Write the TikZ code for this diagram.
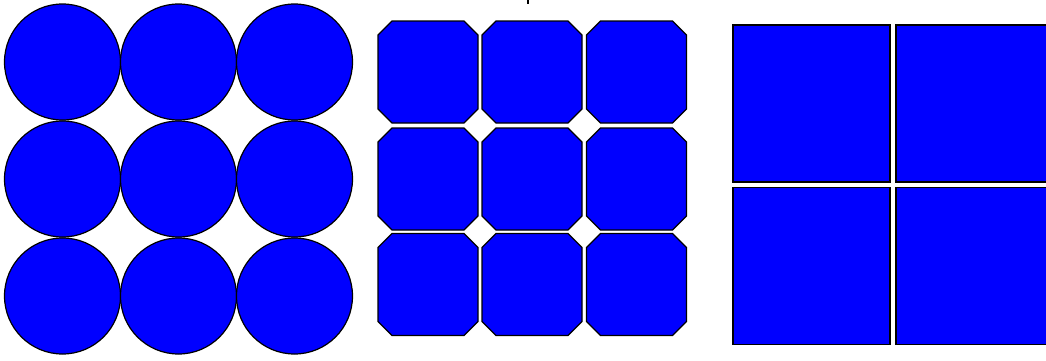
\documentclass[tikz,border=0pt]{standalone}
\begin{document}
\begin{tikzpicture}[x=1pt,y=-1pt,
  disc/.style={circle,draw=black,fill=blue,line width=1.2pt,minimum size=116pt,inner sep=0pt},
  tile/.style={draw=black,fill=blue,line width=1.2pt},
  sq/.style={rectangle,draw=black,fill=blue,line width=1.2pt,minimum width=157pt,minimum height=157pt,inner sep=0pt}]
\useasboundingbox (0,0) rectangle (1046,360);
\clip (0,0) rectangle (1046,360);
% circles
\foreach \i/\cx in {1/62.5,2/178.5,3/294.5}{
  \foreach \j/\cy in {1/62,2/179,3/296}{
    \node[disc] (c\i\j) at (\cx,\cy) {};
  }
}
% octagons
\foreach \i/\cx in {1/428,2/532,3/636.5}{
  \foreach \j/\cy in {1/72,2/179,3/284.5}{
    \coordinate (o\i\j) at (\cx,\cy);
    \draw[tile] ([shift={(-50,-37)}]o\i\j) -- ([shift={(-36,-51)}]o\i\j) -- ([shift={(36,-51)}]o\i\j) -- ([shift={(50,-37)}]o\i\j)
      -- ([shift={(50,37)}]o\i\j) -- ([shift={(36,51)}]o\i\j) -- ([shift={(-36,51)}]o\i\j) -- ([shift={(-50,37)}]o\i\j) -- cycle;
  }
}
% squares
\node[sq] (s11) at (811.5,103.5) {};
\node[sq] (s21) at (974.5,103.5) {};
\node[sq] (s12) at (811.5,266) {};
\node[sq] (s22) at (974.5,266) {};
% tiny mark
\fill[black] (527,0) rectangle (528.5,3.5);
\end{tikzpicture}
\end{document}
